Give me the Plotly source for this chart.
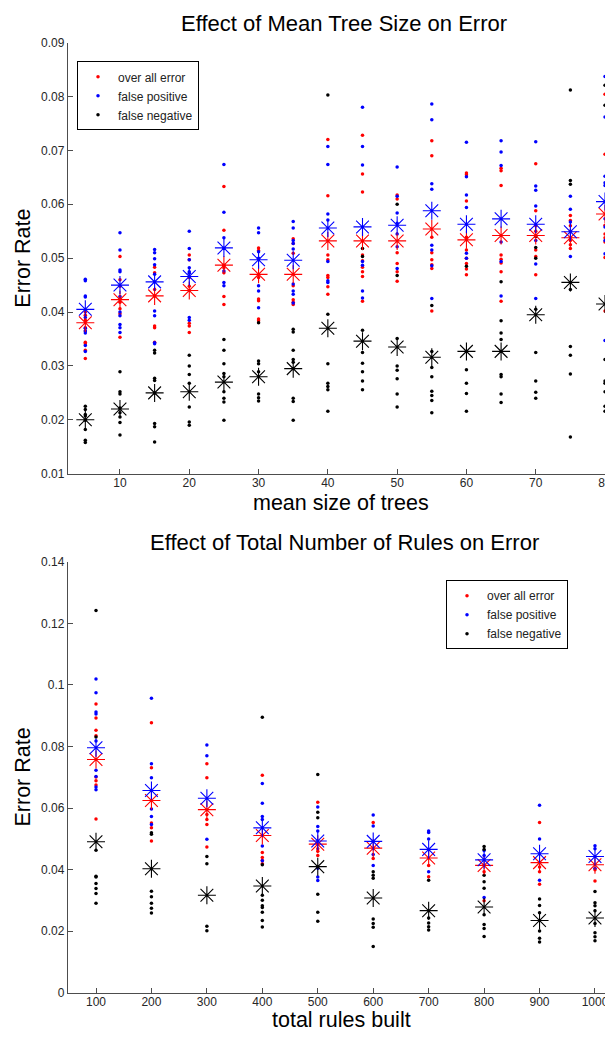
import plotly.graph_objects as go

# ---------------- data: top panel ----------------
tree_sizes = [5, 10, 15, 20, 25, 30, 35, 40, 45, 50, 55, 60, 65, 70, 75, 80]
tree_overall_mean = [0.0380, 0.0423, 0.0430, 0.0440, 0.0487, 0.0470, 0.0470, 0.0532,
                     0.0532, 0.0532, 0.0554, 0.0534, 0.0542, 0.0542, 0.0538, 0.0582]
tree_fp_mean = [0.0405, 0.0450, 0.0456, 0.0466, 0.0519, 0.0497, 0.0496, 0.0556,
                0.0558, 0.0561, 0.0588, 0.0563, 0.0573, 0.0563, 0.0549, 0.0605]
tree_fn_mean = [0.0200, 0.0220, 0.0250, 0.0252, 0.0270, 0.0280, 0.0295, 0.0370,
                0.0346, 0.0335, 0.0316, 0.0327, 0.0327, 0.0395, 0.0455, 0.0415]

tree_overall_runs = [
    [0.0400, 0.0394, 0.0385, 0.0371, 0.0365, 0.0344, 0.0341, 0.0329, 0.0314],
    [0.0503, 0.0460, 0.0448, 0.0425, 0.0418, 0.0406, 0.0397, 0.0353],
    [0.0483, 0.0473, 0.0442, 0.0430, 0.0374, 0.0371, 0.0344],
    [0.0506, 0.0497, 0.0464, 0.0448, 0.0440, 0.0379, 0.0374, 0.0362],
    [0.0633, 0.0552, 0.0482, 0.0473, 0.0487, 0.0429, 0.0414],
    [0.0519, 0.0514, 0.0464, 0.0424, 0.0421, 0.0387, 0.0384],
    [0.0536, 0.0527, 0.0509, 0.0449, 0.0423, 0.0418, 0.0414],
    [0.0720, 0.0616, 0.0506, 0.0497, 0.0468, 0.0464, 0.0447, 0.0433],
    [0.0728, 0.0656, 0.0623, 0.0506, 0.0495, 0.0483, 0.0475, 0.0466, 0.0420],
    [0.0617, 0.0610, 0.0510, 0.0490, 0.0475, 0.0457],
    [0.0718, 0.0690, 0.0539, 0.0510, 0.0497, 0.0488, 0.0481, 0.0402],
    [0.0658, 0.0655, 0.0606, 0.0539, 0.0515, 0.0500, 0.0490, 0.0480, 0.0469],
    [0.0667, 0.0662, 0.0635, 0.0506, 0.0498, 0.0491, 0.0475, 0.0420],
    [0.0675, 0.0588, 0.0560, 0.0550, 0.0515, 0.0503, 0.0469],
    [0.0579, 0.0570, 0.0560, 0.0550, 0.0533, 0.0525, 0.0518],
    [0.0804, 0.0693, 0.0561, 0.0545, 0.0538, 0.0530, 0.0501, 0.0402],
]
tree_fp_runs = [
    [0.0461, 0.0458, 0.0430, 0.0428, 0.0390, 0.0370, 0.0365, 0.0361, 0.0338, 0.0327],
    [0.0547, 0.0515, 0.0478, 0.0475, 0.0429, 0.0400, 0.0393, 0.0377, 0.0371, 0.0362],
    [0.0516, 0.0510, 0.0499, 0.0488, 0.0470, 0.0402, 0.0393, 0.0343, 0.0341],
    [0.0550, 0.0518, 0.0497, 0.0482, 0.0472, 0.0475, 0.0390, 0.0385],
    [0.0674, 0.0585, 0.0538, 0.0518, 0.0476, 0.0455, 0.0449],
    [0.0556, 0.0547, 0.0512, 0.0500, 0.0449, 0.0439, 0.0408],
    [0.0568, 0.0556, 0.0533, 0.0527, 0.0517, 0.0452, 0.0439, 0.0433, 0.0417],
    [0.0707, 0.0674, 0.0582, 0.0571, 0.0494, 0.0458, 0.0455],
    [0.0780, 0.0707, 0.0673, 0.0494, 0.0487, 0.0439, 0.0426],
    [0.0669, 0.0615, 0.0584, 0.0565, 0.0545, 0.0521, 0.0481],
    [0.0786, 0.0757, 0.0638, 0.0628, 0.0524, 0.0515, 0.0486, 0.0425],
    [0.0715, 0.0651, 0.0617, 0.0594, 0.0509, 0.0500],
    [0.0718, 0.0697, 0.0672, 0.0530, 0.0494, 0.0430],
    [0.0716, 0.0634, 0.0626, 0.0597, 0.0533, 0.0489, 0.0425],
    [0.0615, 0.0591, 0.0567, 0.0503],
    [0.0837, 0.0762, 0.0652, 0.0640, 0.0635, 0.0573, 0.0558, 0.0533, 0.0508, 0.0347],
]
tree_fn_runs = [
    [0.0225, 0.0219, 0.0210, 0.0207, 0.0199, 0.0182, 0.0162, 0.0158],
    [0.0289, 0.0252, 0.0248, 0.0222, 0.0213, 0.0205, 0.0195, 0.0172],
    [0.0329, 0.0324, 0.0277, 0.0273, 0.0250, 0.0193, 0.0187, 0.0159],
    [0.0320, 0.0300, 0.0284, 0.0268, 0.0224, 0.0196, 0.0190],
    [0.0349, 0.0329, 0.0304, 0.0286, 0.0280, 0.0252, 0.0240, 0.0233, 0.0199],
    [0.0380, 0.0309, 0.0304, 0.0289, 0.0248, 0.0241, 0.0235],
    [0.0368, 0.0363, 0.0329, 0.0312, 0.0307, 0.0240, 0.0234, 0.0199],
    [0.0803, 0.0396, 0.0304, 0.0268, 0.0262, 0.0256, 0.0216],
    [0.0518, 0.0503, 0.0366, 0.0325, 0.0305, 0.0289, 0.0272, 0.0256],
    [0.0600, 0.0468, 0.0351, 0.0300, 0.0292, 0.0276, 0.0248, 0.0224],
    [0.0412, 0.0327, 0.0297, 0.0280, 0.0253, 0.0245, 0.0236, 0.0213],
    [0.0485, 0.0293, 0.0268, 0.0249, 0.0216],
    [0.0456, 0.0384, 0.0361, 0.0349, 0.0284, 0.0280, 0.0248, 0.0232],
    [0.0540, 0.0520, 0.0500, 0.0405, 0.0325, 0.0272, 0.0251, 0.0240],
    [0.0812, 0.0644, 0.0637, 0.0442, 0.0336, 0.0320, 0.0285, 0.0168],
    [0.0821, 0.0784, 0.0312, 0.0272, 0.0268, 0.0252, 0.0225, 0.0216],
]

tree_xticks = [10, 20, 30, 40, 50, 60, 70, 80]
tree_yticks = [0.01, 0.02, 0.03, 0.04, 0.05, 0.06, 0.07, 0.08, 0.09]
tree_yticklabels = ["0.01", "0.02", "0.03", "0.04", "0.05", "0.06", "0.07", "0.08", "0.09"]

# ---------------- data: bottom panel ----------------
rule_counts = [100, 200, 300, 400, 500, 600, 700, 800, 900, 1000]
rule_overall_mean = [0.0758, 0.0625, 0.0595, 0.0511, 0.0483, 0.0470, 0.0438, 0.0414, 0.0423, 0.0416]
rule_fp_mean = [0.0796, 0.0657, 0.0632, 0.0536, 0.0493, 0.0492, 0.0466, 0.0432, 0.0452, 0.0443]
rule_fn_mean = [0.0491, 0.0403, 0.0317, 0.0347, 0.0410, 0.0308, 0.0267, 0.0279, 0.0235, 0.0243]

rule_overall_runs = [
    [0.0938, 0.0893, 0.0853, 0.0835, 0.0701, 0.0689, 0.0675, 0.0565],
    [0.0877, 0.0731, 0.0552, 0.0536, 0.0493],
    [0.0744, 0.0699, 0.0579, 0.0563, 0.0547, 0.0474],
    [0.0707, 0.0456, 0.0440, 0.0430, 0.0419],
    [0.0619, 0.0468, 0.0460, 0.0446],
    [0.0553, 0.0436],
    [0.0414, 0.0377],
    [0.0393, 0.0299],
    [0.0553, 0.0409, 0.0393, 0.0353],
    [0.0400, 0.0363],
]
rule_fp_runs = [
    [0.1019, 0.0975, 0.0912, 0.0906, 0.0818, 0.0723, 0.0703, 0.0669, 0.0660],
    [0.0957, 0.0744, 0.0699, 0.0597, 0.0573, 0.0547],
    [0.0805, 0.0770, 0.0499],
    [0.0680, 0.0616, 0.0573, 0.0563, 0.0477, 0.0429],
    [0.0604, 0.0540, 0.0526, 0.0405, 0.0376, 0.0365],
    [0.0578, 0.0542, 0.0449, 0.0414],
    [0.0526, 0.0521, 0.0500, 0.0393],
    [0.0462, 0.0446, 0.0310],
    [0.0609, 0.0500, 0.0366],
    [0.0478, 0.0468, 0.0405],
]
rule_fn_runs = [
    [0.1242, 0.0831, 0.0463, 0.0379, 0.0376, 0.0355, 0.0339, 0.0323, 0.0291],
    [0.0520, 0.0515, 0.0330, 0.0312, 0.0291, 0.0275, 0.0259],
    [0.0443, 0.0419, 0.0216, 0.0202],
    [0.0895, 0.0416, 0.0317, 0.0301, 0.0283, 0.0277, 0.0262, 0.0235, 0.0214],
    [0.0709, 0.0587, 0.0569, 0.0320, 0.0262, 0.0233],
    [0.0393, 0.0382, 0.0372, 0.0240, 0.0225, 0.0213, 0.0151],
    [0.0366, 0.0243, 0.0227, 0.0215, 0.0204],
    [0.0475, 0.0466, 0.0382, 0.0361, 0.0340, 0.0254, 0.0222, 0.0209, 0.0183],
    [0.0305, 0.0284, 0.0260, 0.0201, 0.0177, 0.0165],
    [0.0329, 0.0293, 0.0283, 0.0267, 0.0225, 0.0195, 0.0182, 0.0169],
]

rule_xticks = [100, 200, 300, 400, 500, 600, 700, 800, 900, 1000]
rule_yticks = [0, 0.02, 0.04, 0.06, 0.08, 0.10, 0.12, 0.14]
rule_yticklabels = ["0", "0.02", "0.04", "0.06", "0.08", "0.1", "0.12", "0.14"]

series_names = ["over all error", "false positive", "false negative"]
series_colors = ["#ff0000", "#0000ff", "#000000"]

# ---------------- figure ----------------
# the page body has an 8px default margin, so the figure is drawn 8px in
OFF = 8
W, H = 613 - OFF, 1042 - OFF
ML = 68 - OFF
PW = W - ML
FONT = "Liberation Sans, Arial, Helvetica, sans-serif"

fig = go.Figure()


def flatten(xs, runs):
    fx, fy = [], []
    for x, vals in zip(xs, runs):
        for v in vals:
            fx.append(x)
            fy.append(v)
    return fx, fy


def add_panel(xs, runs_list, means_list, xaxis, yaxis, legend):
    for name, color, runs in zip(series_names, series_colors, runs_list):
        fx, fy = flatten(xs, runs)
        fig.add_trace(go.Scatter(
            x=fx, y=fy, mode="markers", name=name,
            marker=dict(color=color, size=3.5, symbol="circle", line=dict(width=0)),
            xaxis=xaxis, yaxis=yaxis, legend=legend, showlegend=True,
        ))
    for name, color, means in zip(series_names, series_colors, means_list):
        fig.add_trace(go.Scatter(
            x=xs, y=means, mode="markers", name=name + " mean",
            marker=dict(color=color, size=15, symbol="asterisk-open",
                        line=dict(color=color, width=1.1)),
            xaxis=xaxis, yaxis=yaxis, showlegend=False,
        ))


add_panel(tree_sizes, [tree_overall_runs, tree_fp_runs, tree_fn_runs],
          [tree_overall_mean, tree_fp_mean, tree_fn_mean], "x", "y", "legend")
add_panel(rule_counts, [rule_overall_runs, rule_fp_runs, rule_fn_runs],
          [rule_overall_mean, rule_fp_mean, rule_fn_mean], "x2", "y2", "legend2")


def py(px):
    # page pixel (from top) -> paper fraction
    return 1 - (px - OFF) / H


def pxx(px):
    # page pixel (from left) -> paper fraction of plot area
    return (px - OFF - ML) / PW


axis_common = dict(
    showline=True, linecolor="#4d4d4d", linewidth=1.4, mirror=False,
    ticks="inside", ticklen=5, tickcolor="#4d4d4d", tickwidth=1,
    showgrid=False, zeroline=False,
    tickfont=dict(family=FONT, size=12, color="#262626"),
)

legend_common = dict(xanchor="left", yanchor="top",
                     bordercolor="#000", borderwidth=1, bgcolor="white",
                     font=dict(family=FONT, size=12, color="#222"),
                     itemsizing="trace", tracegroupgap=0, itemwidth=30)

fig.update_layout(
    width=W, height=H,
    margin=dict(l=ML, r=0, t=0, b=0),
    paper_bgcolor="white", plot_bgcolor="white",
    font=dict(family=FONT, color="#000"),
    xaxis=dict(domain=[0, 1], range=[2.5, 81.15], anchor="y", ticklabelstandoff=-2,
               tickmode="array", tickvals=tree_xticks, **axis_common),
    yaxis=dict(domain=[py(473), py(36)], range=[0.01, 0.09], anchor="x",
               tickmode="array", tickvals=tree_yticks, ticktext=tree_yticklabels,
               **axis_common),
    xaxis2=dict(domain=[0, 1], range=[49.5, 1032.5], anchor="y2", ticklabelstandoff=-2,
                tickmode="array", tickvals=rule_xticks, **axis_common),
    yaxis2=dict(domain=[py(999.3), py(562.3)], range=[0, 0.14], anchor="x2",
                tickmode="array", tickvals=rule_yticks, ticktext=rule_yticklabels,
                **axis_common),
    legend=dict(x=pxx(77), y=py(55), **legend_common),
    legend2=dict(x=pxx(446), y=py(581), **legend_common),
)

annots = [
    dict(text="Effect of Mean Tree Size on Error", x=pxx(344), y=py(17), size=22, angle=0),
    dict(text="mean size of trees", x=pxx(341), y=py(503), size=21.5, angle=0),
    dict(text="Error Rate", x=pxx(23), y=py(255), size=21.5, angle=-90),
    dict(text="Effect of Total Number of Rules on Error", x=pxx(344), y=py(543), size=22, angle=0),
    dict(text="total rules built", x=pxx(341), y=py(1027), size=21.5, angle=0),
    dict(text="Error Rate", x=pxx(23), y=py(781), size=21.5, angle=-90),
]
for a in annots:
    fig.add_annotation(text=a["text"], x=a["x"], y=a["y"], xref="paper", yref="paper",
                       xanchor="center", yanchor="middle", showarrow=False,
                       textangle=a["angle"],
                       font=dict(family=FONT, size=a["size"], color="#000"))

fig.write_html("out.html")
